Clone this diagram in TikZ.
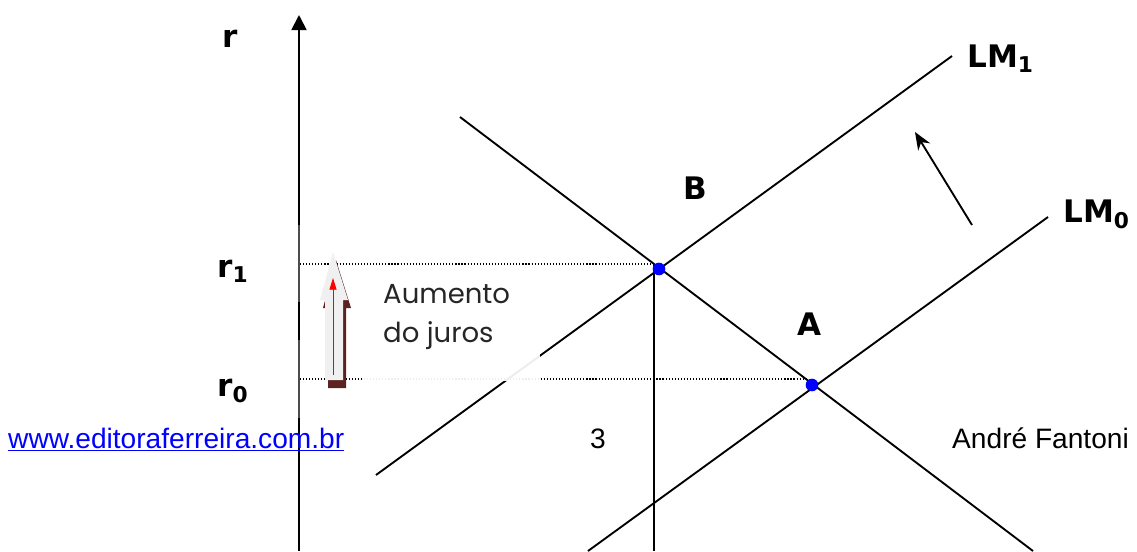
\documentclass[tikz,border=0pt]{standalone}
\usepackage{fontspec}
\setmainfont{Liberation Sans}
\newfontfamily\labfont{DejaVu Sans}
\newfontfamily\aumfont{Poppins}
\usepackage{tikz}
\usetikzlibrary{arrows.meta,positioning}
\definecolor{dotblue}{HTML}{0000FF}
\definecolor{shadebrown}{HTML}{5C2222}
\definecolor{paleblock}{HTML}{F0F0F0}

\begin{document}
\begin{tikzpicture}[
  x=0.03cm, y=-0.03cm,
  curve/.style={line width=1.6pt},
  guide/.style={line width=0.9pt,dash pattern=on 1pt off 1.6pt},
  lab/.style={font=\labfont\bfseries\fontsize{26.5}{30}\selectfont,anchor=base west,inner sep=0pt},
  aum/.style={font=\aumfont\fontsize{23.5}{28}\selectfont,anchor=base west,inner sep=0pt,text=black!85},
  foot/.style={font=\fontsize{24}{28}\selectfont,anchor=base west,inner sep=0pt},
  dot/.style={circle,fill=dotblue,inner sep=0pt,minimum size=0.38cm}
]
\useasboundingbox (0,0) rectangle (1137,551);
% axis
\coordinate (ax0) at (299,551);
\coordinate (ax1) at (299,418);
\coordinate (ax2) at (299,225);
\coordinate (ax3) at (299,15);
\draw[curve,-{Triangle[length=13pt,width=13pt]}] (ax2) -- (ax3);
\draw[black!70,line width=1pt] (ax2) -- (ax1);
\draw[curve] (299,302) -- (299,340);
\draw[curve] (ax1) -- (ax0);
% curves
\coordinate (is1) at (460,117);
\coordinate (is2) at (1033,551);
\coordinate (lm1a) at (376,475);
\coordinate (lm1b) at (952,56);
\coordinate (lm0a) at (588,551);
\coordinate (lm0b) at (1048,217);
\draw[curve] (is1) -- (is2);
\draw[curve] (lm1a) -- (lm1b);
\draw[curve] (lm0a) -- (lm0b);
% levels
\coordinate (r1ax) at (300,264);
\coordinate (r1end) at (654,264);
\coordinate (r0ax) at (300,379);
\coordinate (r0end) at (808,379);
\coordinate (vbot) at (654,551);
\draw[guide] (r1ax) -- (r1end);
\draw[guide] (r0ax) -- (r0end);
\draw[curve] (r1end) -- (vbot);
% text box
\fill[white,fill opacity=0.93] (362,272) rectangle (540,381);
\node[aum] (aum1) at (383,303) {Aumento};
\node[aum] (aum2) at (383,342) {do juros};
% block arrow
\fill[shadebrown] (336,260) -- (351,308) -- (346,308) -- (346,388) -- (328,388) -- (328,308) -- (323,308) -- cycle;
\fill[paleblock] (333,252) -- (348,300) -- (343,300) -- (343,380) -- (325,380) -- (325,300) -- (320,300) -- cycle;
\coordinate (red0) at (333,375);
\coordinate (red1) at (333,278);
\draw[red,line width=0.8pt,-{Triangle[length=10pt,width=6pt]}] (red0) -- (red1);
% shift
\coordinate (sh0) at (972,225);
\coordinate (sh1) at (915,132);
\draw[curve,-{Stealth[length=15pt,width=12pt]}] (sh0) -- (sh1);
% points
\node[dot] (ptB) at (659,269) {};
\node[dot] (ptA) at (812,385) {};
% labels
\node[lab] (rlab) at (222,47) {r};
\node[lab] (r1lab) at (217,277) {r\textsubscript{1}};
\node[lab] (r0lab) at (217,396) {r\textsubscript{0}};
\node[lab] (Blab) at (683,199) {B};
\node[lab] (Alab) at (797,335) {A};
\node[lab] (lm1lab) at (967,67) {LM\textsubscript{1}};
\node[lab] (lm0lab) at (1063,222) {LM\textsubscript{0}};
% footer
\node[foot,text=dotblue] (url) at (8,448) {\underline{www.editoraferreira.com.br}};
\node[foot] (page) at (590,448) {3};
\node[foot] (author) at (952,448) {André Fantoni};
\end{tikzpicture}
\end{document}
